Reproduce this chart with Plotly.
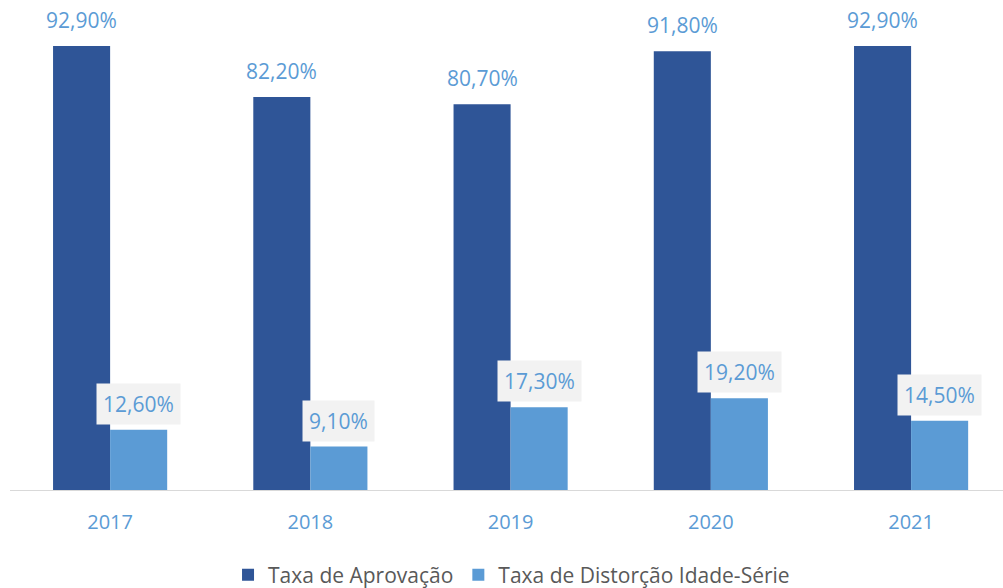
import plotly.graph_objects as go

years = ["2017", "2018", "2019", "2020", "2021"]
aprovacao = [92.9, 82.2, 80.7, 91.8, 92.9]
distorcao = [12.6, 9.1, 17.3, 19.2, 14.5]
labels_aprov = ["92,90%", "82,20%", "80,70%", "91,80%", "92,90%"]
labels_dist = ["12,60%", "9,10%", "17,30%", "19,20%", "14,50%"]

DARK = "#2F5597"
LIGHT = "#5B9BD5"
FONT = "Open Sans"

fig = go.Figure()
fig.add_trace(go.Bar(x=years, y=aprovacao, name="Taxa de Aprovação",
                     marker=dict(color=DARK, line=dict(width=0))))
fig.add_trace(go.Bar(x=years, y=distorcao, name="Taxa de Distorção Idade-Série",
                     marker=dict(color=LIGHT, line=dict(width=0))))

annotations = []
for i, (v, t) in enumerate(zip(aprovacao, labels_aprov)):
    annotations.append(dict(x=i, y=v, xref="x", yref="y", text=t, showarrow=False,
                            xshift=-28.5, yshift=26, yanchor="middle",
                            font=dict(family=FONT, size=21, color=LIGHT)))
for i, (v, t) in enumerate(zip(distorcao, labels_dist)):
    annotations.append(dict(x=i, y=v, xref="x", yref="y", text=t, showarrow=False,
                            xshift=28.5, yshift=26, yanchor="middle",
                            bgcolor="#F2F2F2", borderpad=6,
                            font=dict(family=FONT, size=21, color=LIGHT)))

fig.update_layout(
    width=1003, height=588,
    margin=dict(l=10, r=0, t=12, b=98),
    plot_bgcolor="white", paper_bgcolor="white",
    barmode="group", bargap=0.43, bargroupgap=0,
    showlegend=True,
    legend=dict(orientation="h", x=0.51, xanchor="center", xref="container",
                y=0.022, yanchor="middle", yref="container",
                font=dict(family=FONT, size=21, color="#595959"),
                itemwidth=30, traceorder="normal"),
    annotations=annotations,
    xaxis=dict(type="category", range=[-0.5, 4.459], showline=True, linecolor="#D9D9D9",
               linewidth=1, showgrid=False, ticks="", ticklabelstandoff=14,
               tickfont=dict(family=FONT, size=20, color=LIGHT), fixedrange=True),
    yaxis=dict(range=[0, 100], visible=False, showgrid=False, zeroline=False,
               fixedrange=True),
)

fig.write_html("out.html", config={"displayModeBar": False},
               post_script="document.body.style.margin='0';")
